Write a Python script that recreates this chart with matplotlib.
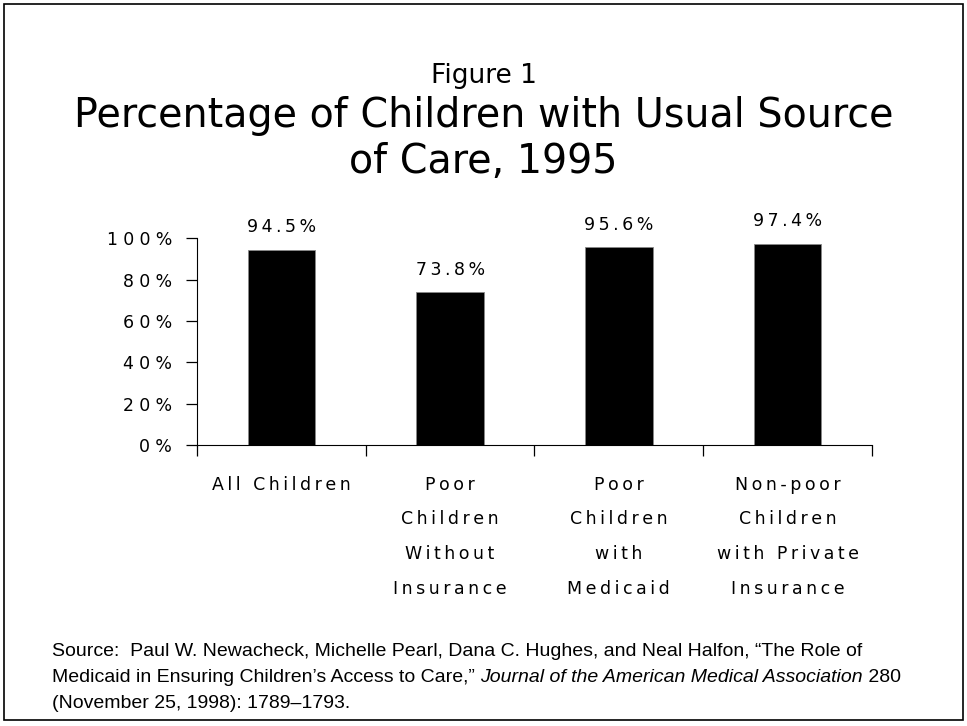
import matplotlib
matplotlib.use("Agg")
import matplotlib.pyplot as plt
from matplotlib.patches import Rectangle

categories = ["All Children",
              "Poor\nChildren\nWithout\nInsurance",
              "Poor\nChildren\nwith\nMedicaid",
              "Non-poor\nChildren\nwith Private\nInsurance"]
values = [94.5, 73.8, 95.6, 97.4]
yticks = [0, 20, 40, 60, 80, 100]

THIN = "\u2009"
HAIR = "\u200a"


def spaced(s, gap=THIN):
    # wide tracking, the way the old slide fonts were set
    return "\n".join(gap.join(line) for line in s.split("\n"))


fig = plt.figure(figsize=(9.67, 7.26), dpi=100)
fig.patches.append(Rectangle((4 / 967, 6 / 726), 959 / 967, 716 / 726,
                             transform=fig.transFigure, fill=False,
                             edgecolor="black", linewidth=1.2))

fig.text(0.5, 1 - 76 / 726, "Figure 1", ha="center", va="center", fontsize=19)
fig.text(0.5, 1 - 139 / 726, "Percentage of Children with Usual Source\nof Care, 1995",
         ha="center", va="center", fontsize=28.5, linespacing=1.2)

ax = fig.add_axes([0.2037, 0.387, 0.698, 0.285])
x = range(len(values))
ax.bar(x, values, width=0.40, color="black", edgecolor="#888888", linewidth=0.6)
ax.set_xlim(-0.5, len(values) - 0.5)
ax.set_ylim(0, 100)

for xi, v in zip(x, values):
    ax.text(xi, v + 6.5, spaced(f"{v:.1f}%"), ha="center", va="bottom",
            fontsize=12.5, clip_on=False)

ax.spines["top"].set_visible(False)
ax.spines["right"].set_visible(False)
ax.set_yticks(yticks)
ax.set_yticklabels([spaced(f"{t}%", THIN + HAIR) for t in yticks], fontsize=12.5)
ax.set_xticks([i - 0.5 for i in range(len(values) + 1)])
ax.set_xticklabels([])
ax.set_xticks(list(x), minor=True)
ax.set_xticklabels([spaced(c) for c in categories], minor=True,
                   fontsize=12.5, linespacing=2.2, va="top")
ax.tick_params(axis="x", which="minor", length=0, pad=22)
ax.tick_params(axis="both", which="major", length=8, width=0.9, direction="out")
ax.tick_params(axis="y", pad=10)

src_font = ["Liberation Sans Narrow", "Liberation Sans", "DejaVu Sans"]
src_size = 14
fig.text(52 / 967, 1 - 651 / 726,
         "Source:  Paul W. Newacheck, Michelle Pearl, Dana C. Hughes, and Neal Halfon, \u201cThe Role of",
         family=src_font, fontsize=src_size, va="center")
fig.text(52 / 967, 1 - 703 / 726, "(November 25, 1998): 1789\u20131793.",
         family=src_font, fontsize=src_size, va="center")

# second source line mixes upright and italic runs
fig.canvas.draw()
renderer = fig.canvas.get_renderer()
xpos = 52 / 967
for piece, style in [("Medicaid in Ensuring Children\u2019s Access to Care,\u201d ", "normal"),
                     ("Journal of the American Medical Association", "italic"),
                     (" 280", "normal")]:
    t = fig.text(xpos, 1 - 677 / 726, piece, family=src_font, fontsize=src_size,
                 style=style, va="center")
    bb = t.get_window_extent(renderer)
    xpos += bb.width / fig.bbox.width

fig.savefig("out.png", dpi=100)
